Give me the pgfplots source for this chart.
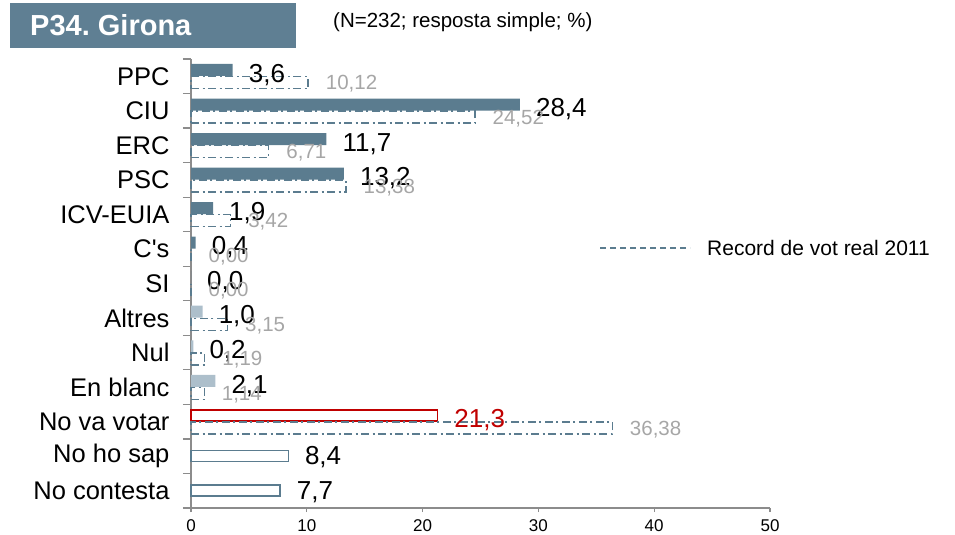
\documentclass[border=0pt]{standalone}
\usepackage{fontspec}
\setmainfont{Liberation Sans}
\usepackage{pgfplots}
\usepackage{pgfplotstable}
\pgfplotsset{compat=1.18}
\definecolor{slate}{HTML}{5B7C8F}
\definecolor{titlebox}{HTML}{5F7F93}
\definecolor{lightbar}{HTML}{ADBFCB}
\definecolor{greytxt}{HTML}{A6A6A6}
\definecolor{redc}{HTML}{C00000}
\definecolor{axisgray}{HTML}{8C8C8C}

\pgfplotstableread{
y v
0 3.6
1 28.4
2 11.7
3 13.2
4 1.9
5 0.4
6 0.0
}\darktab
\pgfplotstableread{
y v
7 1.0
8 0.2
9 2.1
}\lighttab
\pgfplotstableread{
y v
10 21.3
}\redtab
\pgfplotstableread{
y v
11 8.4
12 7.7
}\outlinetab
\pgfplotstableread{
y v
0 10.12
1 24.52
2 6.71
3 13.38
4 3.42
5 0.00
6 0.00
7 3.15
8 1.19
9 1.14
10 36.38
}\realtab

\begin{document}
\begin{tikzpicture}
\path[use as bounding box] (0pt,0pt) rectangle (955pt,-535pt);
% title
\fill[titlebox] (10pt,-3pt) rectangle (296pt,-48pt);
\node[anchor=west, text=white, inner sep=0pt, font=\fontsize{29}{32}\selectfont\bfseries] at (30pt,-25.5pt) {P34.\ Girona};
\node[anchor=west, inner sep=0pt, font=\fontsize{20.5}{24}\selectfont] at (333pt,-22pt) {(N=232; resposta simple; \%)};
\begin{axis}[
  at={(191pt,-59pt)}, anchor=north west,
  scale only axis, width=579pt, height=449pt,
  xmin=0, xmax=50, ymin=-0.5, ymax=12.5,
  y dir=reverse, clip=false,
  axis lines=left, axis line style={-, draw=axisgray, line width=1.2pt},
  xtick={0,10,...,50},
  xticklabel style={font=\fontsize{17}{20}\selectfont, yshift=-4pt},
  /pgf/number format/assume math mode=true,
  major x tick style={draw=axisgray, line width=1.2pt},
  tick align=outside,
  major tick length=4pt,
  ytick={0,...,12},
  yticklabels={PPC,CIU,ERC,PSC,ICV-EUIA,C\textquotesingle s,SI,Altres,Nul,En blanc,No va votar,No ho sap,No contesta},
  yticklabel style={font=\fontsize{25.5}{28}\selectfont, xshift=-14pt},
  major y tick style={draw=none},
  minor ytick={-0.5,0.5,...,12.5},
  minor y tick style={draw=axisgray, line width=1.2pt},
  minor tick length=8pt,
  point meta=x,
  nodes near coords style={anchor=west, inner sep=0pt},
]
\addplot[xbar, bar width=12pt, bar shift=6.3pt, fill=slate, draw=none,
  nodes near coords={\pgfmathprintnumber[fixed,fixed zerofill,precision=1,use comma]{\pgfplotspointmeta}},
  every node near coord/.append style={font=\fontsize{26}{28}\selectfont, text=black, xshift=16pt, yshift=1.5pt}]
  table[x=v,y=y]{\darktab};
\addplot[xbar, bar width=12pt, bar shift=6.3pt, fill=lightbar, draw=none,
  nodes near coords={\pgfmathprintnumber[fixed,fixed zerofill,precision=1,use comma]{\pgfplotspointmeta}},
  every node near coord/.append style={font=\fontsize{26}{28}\selectfont, text=black, xshift=16pt, yshift=1.5pt}]
  table[x=v,y=y]{\lighttab};
\addplot[xbar, bar width=11pt, bar shift=6.3pt, fill=white, draw=redc, line width=1.5pt,
  nodes near coords={\pgfmathprintnumber[fixed,fixed zerofill,precision=1,use comma]{\pgfplotspointmeta}},
  every node near coord/.append style={font=\fontsize{26}{28}\selectfont, text=redc, xshift=16pt, yshift=1.5pt}]
  table[x=v,y=y]{\redtab};
\addplot[xbar, bar width=11pt, bar shift=0pt, fill=white, draw=slate, line width=1.5pt,
  nodes near coords={\pgfmathprintnumber[fixed,fixed zerofill,precision=1,use comma]{\pgfplotspointmeta}},
  every node near coord/.append style={font=\fontsize{26}{28}\selectfont, text=black, xshift=16pt, yshift=-1pt}]
  table[x=v,y=y]{\outlinetab};
\addplot[xbar, bar width=12pt, bar shift=-6.3pt, fill=none, draw=slate, line width=1.4pt,
  dash pattern=on 8pt off 3.5pt on 2pt off 3.5pt,
  nodes near coords={\pgfmathprintnumber[fixed,fixed zerofill,precision=2,use comma]{\pgfplotspointmeta}},
  every node near coord/.append style={font=\fontsize{20.5}{23}\selectfont, text=greytxt, xshift=17pt, yshift=-7.5pt, solid}]
  table[x=v,y=y]{\realtab};
\end{axis}
% legend
\draw[slate, line width=1.5pt, dash pattern=on 6pt off 4pt] (600pt,-248pt) -- (690pt,-248pt);
\node[anchor=west, inner sep=0pt, font=\fontsize{21}{24}\selectfont] at (707pt,-248pt) {Record de vot real 2011};
\end{tikzpicture}
\end{document}
